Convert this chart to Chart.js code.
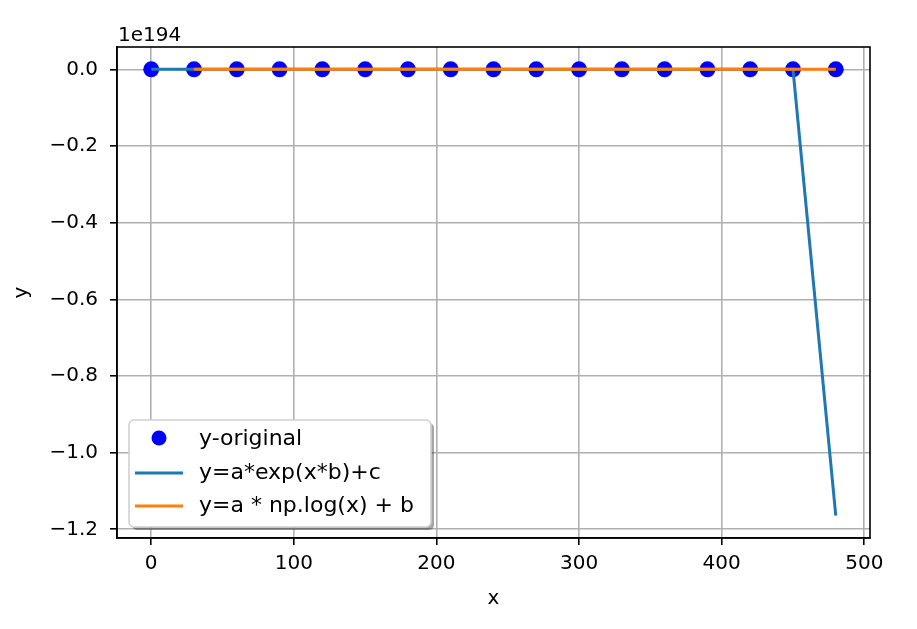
<!DOCTYPE html>
<html>
<head>
<meta charset="utf-8">
<script src="https://cdn.jsdelivr.net/npm/chart.js@4/dist/chart.umd.min.js"></script>
<style>
  html, body { margin: 0; padding: 0; background: #fff; }
  canvas { display: block; }
</style>
</head>
<body>
<canvas id="fitChart" width="917" height="629"></canvas>
<script>
// sample x positions and the three series (y values in units of 1e194)
const xValues = [0, 30, 60, 90, 120, 150, 180, 210, 240, 270, 300, 330, 360, 390, 420, 450, 480];
const yOriginal = [0, 0, 0, 0, 0, 0, 0, 0, 0, 0, 0, 0, 0, 0, 0, 0, 0];
const yExpFit = [0, 0, 0, 0, 0, 0, 0, 0, 0, 0, 0, 0, 0, 0, 0, 0, -1.1645];
// log(0) is -inf, so the first point is missing
const yLogFit = [null, 0, 0, 0, 0, 0, 0, 0, 0, 0, 0, 0, 0, 0, 0, 0, 0];

const xTicks = [0, 100, 200, 300, 400, 500];
const yTicks = [0, -0.2, -0.4, -0.6, -0.8, -1.0, -1.2];
const seriesLabels = ['y-original', 'y=a*exp(x*b)+c', 'y=a * np.log(x) + b'];
const offsetText = '1e194';

const BLUE = '#1f77b4';
const ORANGE = '#ff7f0e';

const toPoints = (ys) => xValues.map((x, i) => ({ x: x, y: ys[i] }));

Chart.defaults.font.family = "'DejaVu Sans', sans-serif";
Chart.defaults.font.size = 20;
Chart.defaults.color = '#000';

// frame, offset text and the matplotlib-style legend box
const framePlugin = {
  id: 'frame',
  afterDatasetsDraw(chart) {
    const { ctx, chartArea: a } = chart;
    ctx.save();
    ctx.strokeStyle = '#000';
    ctx.lineWidth = 1.6;
    ctx.strokeRect(a.left, a.top, a.right - a.left, a.bottom - a.top);
    ctx.fillStyle = '#000';
    ctx.font = "20px 'DejaVu Sans'";
    ctx.textAlign = 'left';
    ctx.textBaseline = 'alphabetic';
    ctx.fillText(offsetText, a.left + 1, 41);
    ctx.restore();
  },
  afterDraw(chart) {
    const { ctx } = chart;
    const bx = 129, by = 420, bw = 302, bh = 107, r = 5;
    const box = (x, y) => {
      ctx.beginPath();
      ctx.roundRect(x, y, bw, bh, r);
    };
    ctx.save();
    // shadow
    ctx.fillStyle = 'rgba(0,0,0,0.35)';
    box(bx + 3, by + 3);
    ctx.fill();
    ctx.fillStyle = '#fff';
    box(bx, by);
    ctx.fill();
    ctx.strokeStyle = '#d0d0d0';
    ctx.lineWidth = 1.6;
    ctx.stroke();

    const rows = [439, 473, 506];
    // marker row
    ctx.fillStyle = 'blue';
    ctx.beginPath();
    ctx.arc(159, rows[0] - 1, 7.5, 0, Math.PI * 2);
    ctx.fill();
    // line rows
    ctx.lineWidth = 3;
    ctx.strokeStyle = BLUE;
    ctx.beginPath(); ctx.moveTo(135, rows[1]); ctx.lineTo(183, rows[1]); ctx.stroke();
    ctx.strokeStyle = ORANGE;
    ctx.beginPath(); ctx.moveTo(135, rows[2]); ctx.lineTo(183, rows[2]); ctx.stroke();

    ctx.fillStyle = '#000';
    ctx.font = "22px 'DejaVu Sans'";
    ctx.textAlign = 'left';
    ctx.textBaseline = 'middle';
    seriesLabels.forEach((t, i) => ctx.fillText(t, 199, rows[i]));
    ctx.restore();
  }
};

const gridOpts = {
  color: '#b0b0b0',
  lineWidth: 1.6,
  tickLength: 7,
  tickColor: '#000',
  tickWidth: 1.6
};

const ctx = document.getElementById('fitChart').getContext('2d');
const fitChart = new Chart(ctx, {
  type: 'line',
  data: {
    datasets: [
      {
        label: seriesLabels[0],
        data: toPoints(yOriginal),
        showLine: false,
        pointRadius: 8,
        pointBackgroundColor: 'blue',
        pointBorderWidth: 0,
        order: 3
      },
      {
        label: seriesLabels[1],
        data: toPoints(yExpFit),
        borderColor: BLUE,
        borderWidth: 3,
        pointRadius: 0,
        tension: 0,
        order: 2
      },
      {
        label: seriesLabels[2],
        data: toPoints(yLogFit),
        borderColor: ORANGE,
        borderWidth: 3,
        pointRadius: 0,
        tension: 0,
        spanGaps: false,
        order: 1
      }
    ]
  },
  options: {
    responsive: false,
    animation: false,
    devicePixelRatio: 1,
    layout: { padding: { left: 0, right: 47, top: 47, bottom: 0 } },
    plugins: {
      legend: { display: false },
      tooltip: { enabled: false },
      title: { display: false }
    },
    scales: {
      x: {
        type: 'linear',
        min: -24,
        max: 504,
        grid: gridOpts,
        border: { color: '#000', width: 1.6 },
        afterBuildTicks: (scale) => { scale.ticks = xTicks.map(v => ({ value: v })); },
        afterFit: (scale) => { scale.height = 91; },
        ticks: { padding: 7, maxRotation: 0, callback: (v) => String(v) },
        title: { display: true, text: 'x', padding: { top: 18, bottom: 18 } }
      },
      y: {
        type: 'linear',
        min: -1.2227,
        max: 0.0582,
        grid: gridOpts,
        border: { color: '#000', width: 1.6 },
        afterBuildTicks: (scale) => { scale.ticks = yTicks.map(v => ({ value: v })); },
        afterFit: (scale) => { scale.width = 117; },
        ticks: {
          padding: 12,
          callback: (v) => v.toFixed(1).replace('-', '\u2212').replace('\u22120.0', '0.0')
        },
        title: { display: true, text: 'y', padding: 10 }
      }
    }
  },
  plugins: [framePlugin]
});
</script>
</body>
</html>
